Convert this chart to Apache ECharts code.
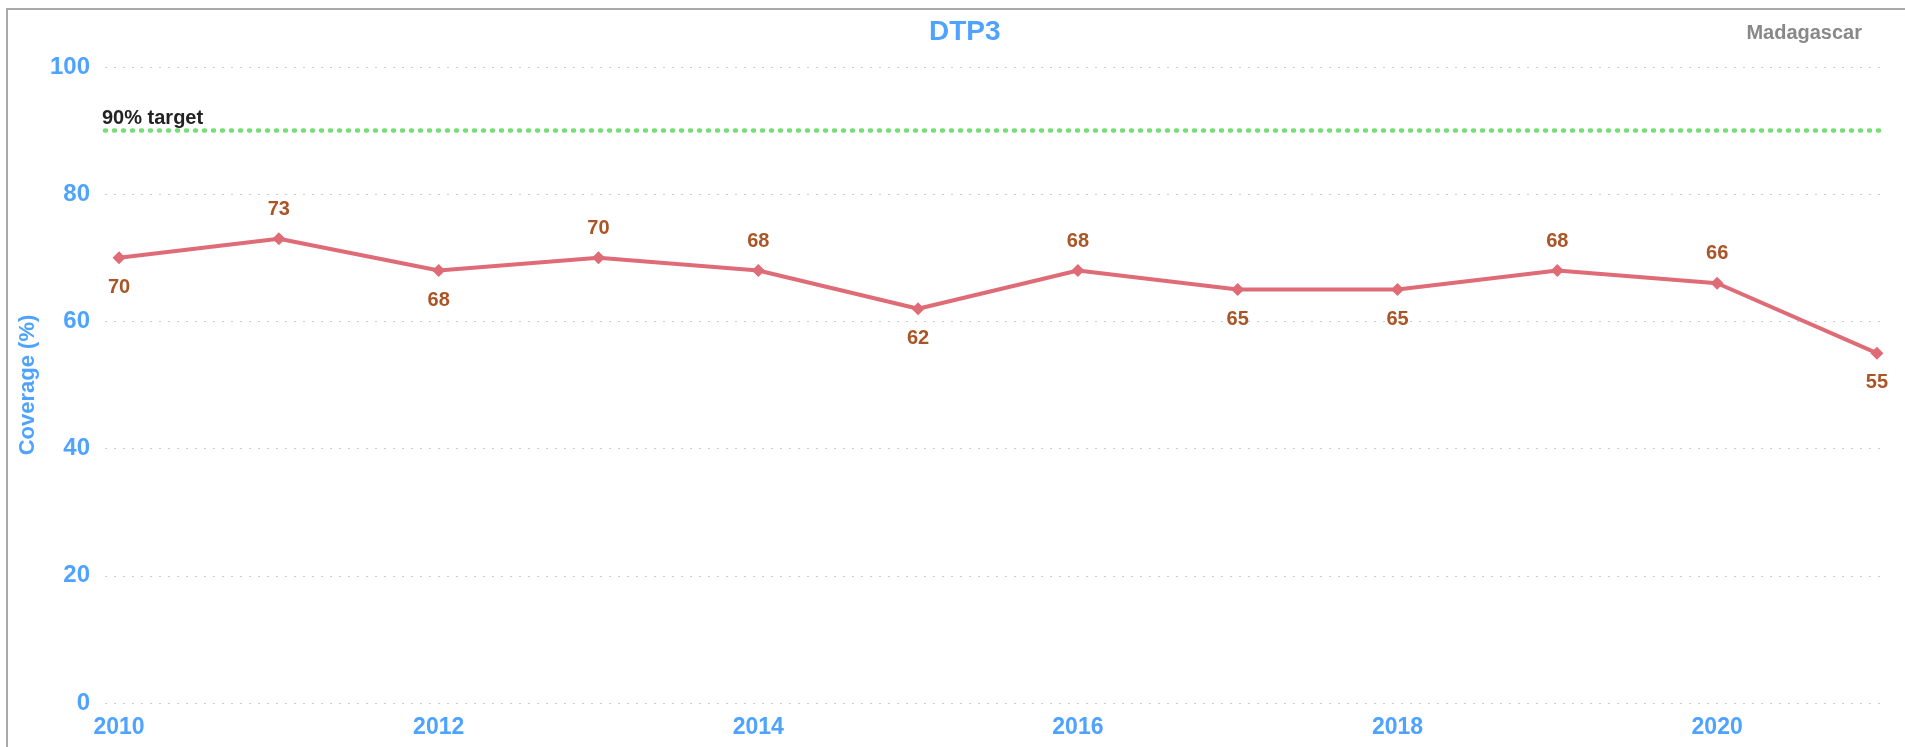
<!DOCTYPE html>
<html>
<head>
<meta charset="utf-8">
<script src="https://cdn.jsdelivr.net/npm/echarts@6/dist/echarts.min.js"></script>
<style>
    html, body { margin: 0; padding: 0; background: #fff; overflow: hidden; }
    #main { width: 1905px; height: 747px; }
    #frame { position: absolute; left: 6px; top: 8px; width: 2000px; height: 800px;
             border-left: 2px solid #a9a9a9; border-top: 2px solid #a9a9a9; pointer-events: none; }
</style>
</head>
<body>
<div id="main"></div>
<div id="frame"></div>
<script>
var years = [2010, 2011, 2012, 2013, 2014, 2015, 2016, 2017, 2018, 2019, 2020, 2021];
var coverage = [70, 73, 68, 70, 68, 62, 68, 65, 65, 68, 66, 55];
// where the value label sits for each point
var labelPos = ['bottom', 'top', 'bottom', 'top', 'top', 'bottom', 'top', 'bottom', 'bottom', 'top', 'top', 'bottom'];
var yearTicks = [2010, 2012, 2014, 2016, 2018, 2020];
var target = 90;

var blue = '#4da3ff';
var font = 'Liberation Sans, Arial, sans-serif';

var points = years.map(function (y, i) {
    return {
        value: [y, coverage[i]],
        label: { position: labelPos[i] }
    };
});

var option = {
    animation: false,
    textStyle: { fontFamily: font },
    title: [
        {
            text: 'DTP3',
            left: 924,
            top: 13,
            textStyle: { color: blue, fontSize: 28, fontWeight: 'bold', fontFamily: font }
        },
        {
            text: 'Madagascar',
            right: 38,
            top: 18,
            textStyle: { color: '#888', fontSize: 20, fontWeight: 'bold', fontFamily: font }
        }
    ],
    grid: { left: 105, right: 18, top: 67, bottom: 44 },
    xAxis: {
        type: 'value',
        min: 2009.912,
        max: 2021.063,
        axisLine: { show: false },
        axisTick: { show: false },
        splitLine: { show: false },
        axisLabel: {
            customValues: yearTicks,
            formatter: function (v) { return String(v); },
            color: blue,
            fontSize: 23,
            fontWeight: 'bold',
            margin: 13
        }
    },
    yAxis: {
        type: 'value',
        min: 0,
        max: 100,
        interval: 20,
        name: 'Coverage (%)',
        nameLocation: 'middle',
        nameRotate: 90,
        nameGap: 66,
        nameTextStyle: { color: blue, fontSize: 22, fontWeight: 'bold' },
        axisLine: { show: false },
        axisTick: { show: false },
        axisLabel: { color: blue, fontSize: 24, fontWeight: 'bold', margin: 15 },
        splitLine: { lineStyle: { type: [2, 7], color: '#ccc', width: 1 } }
    },
    series: [
        {
            type: 'line',
            data: points,
            symbol: 'diamond',
            symbolSize: 13,
            lineStyle: { color: '#df6b77', width: 4 },
            itemStyle: { color: '#df6b77' },
            label: {
                show: true,
                distance: 13,
                color: '#ab5526',
                fontSize: 20,
                fontWeight: 'bold',
                formatter: function (p) { return p.value[1]; }
            },
            markLine: {
                silent: true,
                symbol: 'none',
                lineStyle: { type: [1, 8], color: '#77dd77', width: 4.5, cap: 'round' },
                label: {
                    position: 'insideStartTop',
                    formatter: '90% target',
                    color: '#222',
                    fontSize: 20,
                    fontWeight: 'bold',
                    distance: [-3, 2]
                },
                data: [{ yAxis: target }]
            }
        }
    ]
};

var chart = echarts.init(document.getElementById('main'));
chart.setOption(option);
</script>
</body>
</html>
